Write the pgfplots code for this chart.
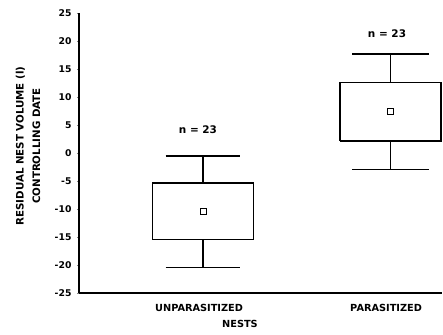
\documentclass[border=0pt]{standalone}
\usepackage{fontspec}
\setmainfont{DejaVu Sans}
\usepackage{pgfplots}
\pgfplotsset{compat=1.18}
\begin{document}
\begin{tikzpicture}[bx/.style={black, solid, line width=1.4pt, mark=none}]
\useasboundingbox (-79bp,-42bp) rectangle (364bp,293bp);
\begin{axis}[
  at={(0,0)}, anchor=south west,
  scale only axis,
  width=363bp, height=280bp,
  xmin=0.337, xmax=2.278,
  ymin=-25, ymax=25,
  clip=false,
  axis lines=left,
  axis line style={-, line width=1.3pt},
  ytick={-25,-20,...,25},
  xtick={0.979,1.979},
  xticklabels={UNPARASITIZED,PARASITIZED},
  x tick style={draw=none},
  y tick style={line width=0.6pt},
  major tick length=2bp,
  tick align=outside,
  /pgf/number format/assume math mode=true,
  yticklabel style={font=\fontsize{9.3}{10}\selectfont\bfseries, xshift=-2bp},
  xticklabel style={font=\fontsize{9.8}{11}\selectfont\bfseries, anchor=center, yshift=-13bp},
  every axis x label/.style={at={(axis description cs:0.4435,0)}, yshift=-31bp, anchor=center, font=\fontsize{9.8}{11}\selectfont\bfseries},
  every axis y label/.style={at={(axis description cs:0,0.525)}, xshift=-51bp, anchor=center, rotate=90, align=center, font=\fontsize{10.3}{16.5}\selectfont\bfseries},
  xlabel={NESTS},
  ylabel={RESIDUAL NEST VOLUME (l)\\CONTROLLING DATE},
]
% Unparasitized
\addplot[bx] coordinates {(0.73,-15.5) (1.27,-15.5) (1.27,-5.35) (0.73,-5.35) (0.73,-15.5)};
\addplot[bx] coordinates {(1,-5.35) (1,-0.55)};
\addplot[bx] coordinates {(1,-15.5) (1,-20.5)};
\addplot[bx] coordinates {(0.80,-0.55) (1.20,-0.55)};
\addplot[bx] coordinates {(0.80,-20.5) (1.20,-20.5)};
% Parasitized
\addplot[bx] coordinates {(1.732,2.15) (2.272,2.15) (2.272,12.6) (1.732,12.6) (1.732,2.15)};
\addplot[bx] coordinates {(2.002,12.6) (2.002,17.7)};
\addplot[bx] coordinates {(2.002,2.15) (2.002,-3.0)};
\addplot[bx] coordinates {(1.797,17.7) (2.207,17.7)};
\addplot[bx] coordinates {(1.797,-3.0) (2.207,-3.0)};
% means
\addplot[only marks, mark=square, mark size=3bp, line width=0.9pt, black] coordinates {(1,-10.5) (2.004,7.4)};
\node[font=\fontsize{10.5}{12}\selectfont\bfseries] at (axis cs:0.973,4.1) {n = 23};
\node[font=\fontsize{10.5}{12}\selectfont\bfseries] at (axis cs:1.984,21.25) {n = 23};
\end{axis}
\end{tikzpicture}
\end{document}
